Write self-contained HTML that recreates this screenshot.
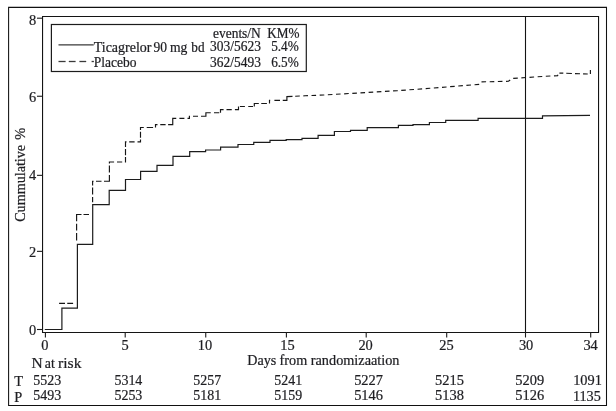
<!DOCTYPE html>
<html><head><meta charset="utf-8">
<style>
html,body{margin:0;padding:0;background:#fff;}
svg{display:block;will-change:transform;}
text{font-family:"Liberation Serif",serif;fill:#1e1e22;stroke:#1e1e22;stroke-width:0.22px;}
.a{font-size:14.4px;}
.l{font-size:13.8px;}
</style></head><body>
<svg width="616" height="411" viewBox="0 0 616 411">
<rect x="0" y="0" width="616" height="411" fill="#fff"/>
<!-- outer border -->
<path d="M8.6,7.35 H606.5 V405.5 H8.6 Z" fill="none" stroke="#111" stroke-width="1.05"/>
<!-- plot frame -->
<path d="M42.55,16.5 H598.55 V332.45 H42.55 Z" fill="none" stroke="#141414" stroke-width="1.1"/>
<!-- reference line -->
<line x1="525.5" y1="16.5" x2="525.5" y2="332.4" stroke="#141414" stroke-width="1.1"/>
<!-- y ticks -->
<g stroke="#1c1c1c" stroke-width="1.1">
<line x1="37" y1="18.2" x2="42.5" y2="18.2"/>
<line x1="37" y1="96.25" x2="42.5" y2="96.25"/>
<line x1="37" y1="175.35" x2="42.5" y2="175.35"/>
<line x1="37" y1="251.35" x2="42.5" y2="251.35"/>
<line x1="37" y1="329.5" x2="42.5" y2="329.5"/>
<!-- x ticks -->
<line x1="45.4" y1="332" x2="45.4" y2="337.5"/>
<line x1="125.2" y1="332" x2="125.2" y2="337.5"/>
<line x1="205.75" y1="332" x2="205.75" y2="337.5"/>
<line x1="286.4" y1="332" x2="286.4" y2="337.5"/>
<line x1="366.2" y1="332" x2="366.2" y2="337.5"/>
<line x1="446.7" y1="332" x2="446.7" y2="337.5"/>
<line x1="525.5" y1="332" x2="525.5" y2="337.5"/>
<line x1="590.7" y1="332" x2="590.7" y2="337.5"/>
</g>
<!-- y tick labels -->
<g class="a" text-anchor="end">
<text x="36.3" y="25">8</text>
<text x="36.3" y="102">6</text>
<text x="36.3" y="180">4</text>
<text x="36.3" y="257">2</text>
<text x="36.3" y="335">0</text>
</g>
<!-- x tick labels -->
<g class="a" text-anchor="middle">
<text x="44.8" y="350">0</text>
<text x="125" y="350">5</text>
<text x="204.9" y="350">10</text>
<text x="287.5" y="350">15</text>
<text x="365.6" y="350">20</text>
<text x="446.5" y="350">25</text>
<text x="526.1" y="350">30</text>
<text x="590.6" y="350">34</text>
</g>
<text class="a" x="247.3" y="364.5" textLength="29" lengthAdjust="spacingAndGlyphs">Days</text>
<text class="a" x="279.6" y="364.5" textLength="27.6" lengthAdjust="spacingAndGlyphs">from</text>
<text class="a" x="310.8" y="364.5" textLength="88.7" lengthAdjust="spacingAndGlyphs">randomizaation</text>
<text class="a" x="31.4" y="367.5" textLength="11.2" lengthAdjust="spacingAndGlyphs">N</text>
<text class="a" x="44.8" y="367.5" textLength="10" lengthAdjust="spacingAndGlyphs">at</text>
<text class="a" x="58" y="367.5" textLength="23.5" lengthAdjust="spacingAndGlyphs">risk</text>
<text class="a" x="14.2" y="385.6">T</text>
<text class="a" x="14.2" y="401.5">P</text>
<g class="a" text-anchor="middle">
<text x="47.3" y="385" textLength="27.9" lengthAdjust="spacingAndGlyphs">5523</text><text x="47.3" y="400" textLength="27.9" lengthAdjust="spacingAndGlyphs">5493</text>
<text x="128.4" y="385" textLength="27.9" lengthAdjust="spacingAndGlyphs">5314</text><text x="128.4" y="400" textLength="27.9" lengthAdjust="spacingAndGlyphs">5253</text>
<text x="207.3" y="385" textLength="27.9" lengthAdjust="spacingAndGlyphs">5257</text><text x="207.3" y="400" textLength="27.9" lengthAdjust="spacingAndGlyphs">5181</text>
<text x="288.3" y="385" textLength="27.9" lengthAdjust="spacingAndGlyphs">5241</text><text x="288.3" y="400" textLength="27.9" lengthAdjust="spacingAndGlyphs">5159</text>
<text x="368.6" y="385" textLength="28.9" lengthAdjust="spacingAndGlyphs">5227</text><text x="368.6" y="400" textLength="28.9" lengthAdjust="spacingAndGlyphs">5146</text>
<text x="449.5" y="385" textLength="28.9" lengthAdjust="spacingAndGlyphs">5215</text><text x="449.5" y="400" textLength="28.9" lengthAdjust="spacingAndGlyphs">5138</text>
<text x="529.8" y="385" textLength="28.9" lengthAdjust="spacingAndGlyphs">5209</text><text x="529.8" y="399.6" textLength="28.9" lengthAdjust="spacingAndGlyphs">5126</text>
<text x="587.5" y="385" textLength="28.7" lengthAdjust="spacingAndGlyphs">1091</text><text x="586.9" y="400.5" textLength="27.9" lengthAdjust="spacingAndGlyphs">1135</text>
</g>
<text class="a" transform="translate(24.7,221.8) rotate(-90)" textLength="76.9" lengthAdjust="spacingAndGlyphs">Cummulative</text>
<text class="a" transform="translate(24.7,139.8) rotate(-90)">%</text>
<!-- legend -->
<rect x="51.4" y="24.5" width="254.9" height="47" fill="#fff" stroke="#1c1c1c" stroke-width="1.2"/>
<line x1="58.5" y1="44.9" x2="93.7" y2="44.9" stroke="#3a3a3a" stroke-width="1.3"/>
<g stroke="#3a3a3a" stroke-width="1.3">
<line x1="58.5" y1="61.5" x2="65.6" y2="61.5"/>
<line x1="68.8" y1="61.5" x2="75.6" y2="61.5"/>
<line x1="79.4" y1="61.5" x2="86.2" y2="61.5"/>
<line x1="91.6" y1="61.5" x2="93.9" y2="61.5"/>
</g>
<g class="l" lengthAdjust="spacingAndGlyphs">
<text x="93.7" y="51.7" textLength="57.8" lengthAdjust="spacingAndGlyphs">Ticagrelor</text>
<text x="153.5" y="51.7" textLength="13.5" lengthAdjust="spacingAndGlyphs">90</text>
<text x="169.9" y="51.7" textLength="17.4" lengthAdjust="spacingAndGlyphs">mg</text>
<text x="191.3" y="51.5" textLength="13.2" lengthAdjust="spacingAndGlyphs">bd</text>
<text x="93.7" y="66.8" textLength="42.8" lengthAdjust="spacingAndGlyphs">Placebo</text>
<text x="213" y="37.5" textLength="47.8" lengthAdjust="spacingAndGlyphs">events/N</text>
<text x="267.2" y="37.8" textLength="32.3" lengthAdjust="spacingAndGlyphs">KM%</text>
<text x="210.1" y="51.1" textLength="50.8" lengthAdjust="spacingAndGlyphs">303/5623</text>
<text x="271.2" y="51.2" textLength="27.6" lengthAdjust="spacingAndGlyphs">5.4%</text>
<text x="210.1" y="66.7" textLength="50.8" lengthAdjust="spacingAndGlyphs">362/5493</text>
<text x="271.2" y="66.8" textLength="27.6" lengthAdjust="spacingAndGlyphs">6.5%</text>
</g>
<!-- dashed curve (placebo) -->
<path fill="none" stroke="#161616" stroke-width="1.15" stroke-linejoin="miter"
 d="M59.1,303.4 H65 M67.25,303.4 H73.1
 M76.6,240.6 V233.1 M76.6,230.6 V223.75 M76.6,221.25 V214.5 H81.5 M83.5,214.5 H89
 M92.6,202.3 V196.9 M92.6,194.4 V187.5 M92.6,185.6 V181.2 H93.6 M96,181.2 H101.5 M104,181.2 H109.4 V175
 M109.4,172.5 V165.6 M109.4,163.5 V162 H114.1 M117,162 H122.2
 M124.9,162 H125.5 V157.1 M125.5,155.2 V148.9 M125.5,146.9 V141.85 H126.5 M129.2,141.85 H134.6 M137.5,141.85 H140.5 V139.5
 M140.5,137.7 V131.8 M140.5,129.9 V127.45 H143.8 M146.7,127.45 H153.1
 M155.5,127.45 V124.6 H157.5 M160.25,124.6 H165.6 M168.1,124.6 H172.75 V118.4 H176.25
 M179.4,118.4 H184.4 M187.5,118.4 H189.4 V116.25 H190 M193,116.25 H198
 M201,116.25 H205.9 V112.75 H210.75 M214,112.75 H219.25
 M220.5,112.75 V109.6 H223.6 M226.5,109.6 H231.75 M234.9,109.6 H238.5 V106.5
 M239.9,106.5 H244.9 M248.25,106.5 H253
 M254.3,106.5 V103.5 H258.8 M261.25,103.5 H266.9 M269.5,103.5 V100.4 H270.2
 M274.4,100.4 H280 M282.75,100.4 H286.9 V96.6 L292.5,96.4"/>
<path fill="none" stroke="#161616" stroke-width="1.15" stroke-dasharray="4.6 3.57" stroke-dashoffset="0"
 d="M295.2,96.3 L305,95.75 L323.75,95 L397,90.7 L430,88.3 L466,85.4 L479,84.4 L481,81.9 L508.5,81.3 L512,78.5 L534,77 L557.6,75.6 L558.3,73.6"/>
<path fill="none" stroke="#161616" stroke-width="1.15" d="M559.4,73.1 L563.3,73.15 M566.25,73.3 L571.9,73.5 M575,73.6 L580,73.8 M583.1,73.9 L587.75,74 M590.4,73.9 V70"/>
<!-- solid curve (ticagrelor) -->
<path fill="none" stroke="#1c1c1c" stroke-width="1.2" stroke-linejoin="miter"
 d="M44.8,329.5 H61.9 V308.1 H77.4 V244.4 H92.7 V204.7 H109.2 V190.3 H125.5 V179.5 H140.6 V171.4 H157 V165.3 H173 V156.4 H189.7 V151.6 H205.6 V150 H220.6 V147.1 H238 V144.5 H253.75 V142.4 H270 V140.4 H286.2 V139.6 H302 V138.4 H318.1 V135.4 H334.4 V131.5 H350.5 V130.4 H367.2 V127.6 H398.4 V125.4 H413 V124.6 H429.4 V122.5 H445.7 V120.4 H478.1 V118.3 H542.5 V115.8 L590,115.3"/>
</svg>
</body></html>
